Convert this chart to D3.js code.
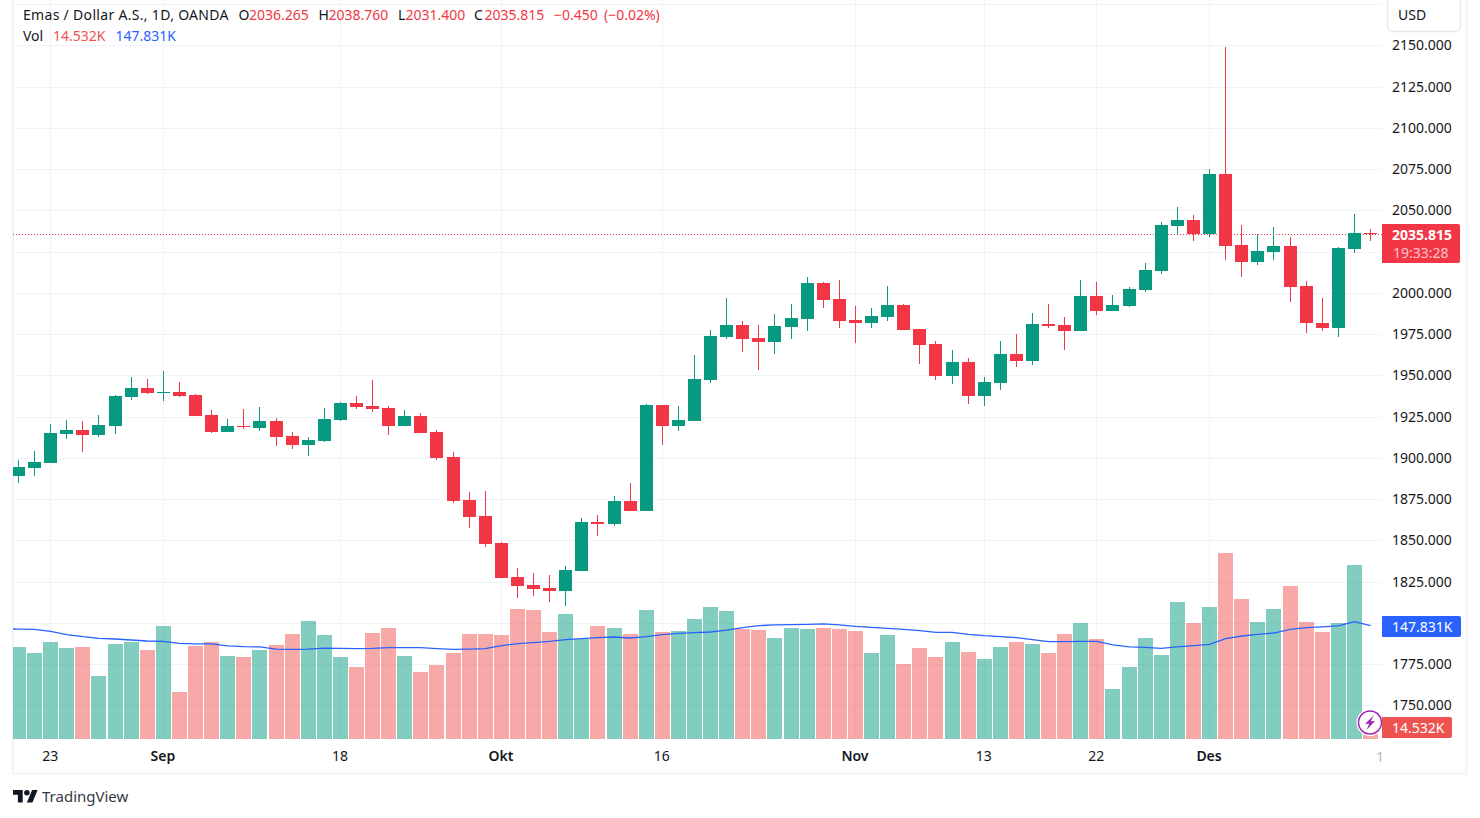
<!DOCTYPE html>
<html>
<head>
<meta charset="utf-8">
<title>Emas / Dollar A.S.</title>
<script src="https://cdn.jsdelivr.net/npm/d3@7"></script>
<style>
  html, body { margin: 0; padding: 0; background: #fff; }
  svg { display: block; }
  text { font-family: "Noto Sans", Roboto, sans-serif; font-size: 14px; fill: #131722; }
</style>
</head>
<body>
<div id="chart"></div>
<script>
// daily candles
var opens = [1889.2,1894.1,1897.1,1914.7,1917.1,1914.1,1919.5,1937.1,1942.6,1939.5,1940.1,1938.3,1926.2,1915.9,1919.5,1918.3,1922.6,1913.5,1908.0,1910.5,
  1923.2,1933.5,1931.7,1930.5,1919.5,1925.6,1915.9,1900.8,1874.7,1865.0,1848.6,1828.0,1823.2,1821.4,1819.6,1831.7,1861.4,1860.2,1874.1,1868.0,
  1932.3,1919.5,1922.6,1947.4,1973.5,1980.8,1972.9,1970.4,1979.5,1984.4,2006.2,1996.5,1983.8,1982.0,1985.6,1992.9,1978.3,1969.2,1949.8,1958.3,
  1937.7,1945.6,1963.2,1958.9,1981.4,1980.8,1977.1,1998.3,1989.2,1992.3,2002.0,2013.5,2040.7,2044.4,2035.9,2072.3,2029.2,2019.1,2025.0,2028.6,
  2004.4,1982.0,1978.9,2026.8,2036.265];
var highs = [1899.0,1904.4,1920.8,1923.2,1922.6,1926.2,1938.3,1949.2,1948.0,1952.9,1946.2,1938.9,1929.2,1923.8,1929.8,1931.1,1924.4,1915.9,1912.9,1930.5,
  1934.1,1937.7,1947.4,1931.7,1929.2,1927.4,1917.1,1903.8,1879.5,1880.1,1849.2,1833.5,1830.5,1829.2,1834.7,1863.8,1865.6,1877.1,1885.0,1932.9,
  1932.3,1931.7,1962.6,1977.7,1997.1,1983.2,1980.8,1987.4,1993.5,2009.8,2006.8,2008.0,1992.3,1991.1,2004.4,1993.5,1978.3,1971.0,1965.6,1960.8,
  1949.2,1971.0,1975.3,1988.0,1993.5,1985.6,2008.0,2006.8,1998.9,2003.8,2018.3,2043.2,2052.3,2047.4,2075.3,2149.3,2041.4,2035.9,2040.1,2034.1,
  2007.4,1997.1,2028.0,2048.0,2038.76];
var lows = [1885.0,1889.2,1897.1,1911.7,1903.8,1912.9,1914.7,1935.3,1938.9,1934.7,1937.1,1925.6,1915.3,1915.9,1917.7,1916.5,1907.4,1905.6,1901.4,1909.8,
  1922.6,1929.8,1928.0,1914.1,1919.5,1915.3,1899.0,1872.9,1857.7,1846.2,1827.4,1815.3,1816.5,1812.9,1810.5,1831.7,1852.9,1859.0,1868.0,1868.0,
  1908.0,1916.5,1922.6,1945.6,1972.3,1964.4,1953.5,1963.2,1972.3,1977.1,1991.1,1978.9,1969.8,1978.9,1983.2,1977.7,1957.1,1947.4,1945.0,1932.9,
  1931.7,1941.4,1955.3,1956.5,1978.9,1965.6,1977.1,1986.8,1989.2,1991.7,2000.8,2011.7,2035.3,2031.7,2034.1,2020.3,2009.8,2017.3,2020.3,1994.7,
  1975.9,1977.1,1973.5,2024.4,2031.4];
var closes = [1894.7,1897.7,1915.3,1917.1,1914.1,1920.2,1937.7,1942.6,1939.5,1940.1,1937.7,1925.6,1915.9,1919.5,1918.9,1922.6,1912.9,1908.0,1911.1,1923.8,
  1933.5,1931.1,1929.8,1919.5,1925.6,1915.3,1900.2,1874.1,1864.4,1848.0,1827.4,1822.6,1820.8,1819.6,1832.3,1861.4,1860.2,1874.1,1868.0,1932.3,
  1919.5,1923.2,1948.0,1974.1,1980.8,1972.3,1970.4,1980.1,1985.0,2006.2,1995.9,1983.2,1982.0,1986.2,1992.9,1977.7,1968.6,1949.8,1958.3,1937.7,
  1946.2,1963.2,1958.9,1981.4,1980.1,1977.1,1998.3,1989.2,1992.9,2002.6,2014.1,2041.4,2044.4,2035.9,2072.3,2028.6,2019.1,2025.6,2028.6,2003.8,
  1982.0,1978.9,2027.4,2036.5,2035.815];

// volume and its moving average, in thousands
var volumes = [120.1,112.2,126.6,118.7,120.1,82.2,124.0,126.6,116.1,147.5,61.3,121.4,126.6,108.3,107.0,116.1,122.7,137.0,154.0,135.7,
  107.0,94.0,138.3,144.8,108.3,87.4,96.6,112.2,137.0,137.0,135.7,169.6,168.3,139.6,163.1,130.5,147.5,144.8,137.0,168.3,
  139.6,140.9,156.6,172.2,167.0,143.5,142.2,131.8,144.8,143.5,144.8,143.5,140.9,112.2,135.7,97.9,118.7,107.0,126.6,113.5,
  104.4,120.1,126.6,124.0,112.2,137.0,151.4,130.5,65.2,94.0,131.8,109.6,178.8,151.4,172.2,242.7,182.7,152.7,169.6,199.7,
  152.7,139.6,151.4,227.1,14.532];
var volumeMA = [143.5,143.1,140.5,136.1,133.5,131.4,130.5,129.2,127.9,127.4,124.8,124.0,124.0,121.4,120.5,120.1,117.4,117.0,117.4,118.7,
  118.3,117.9,118.3,119.2,119.2,119.2,117.9,117.0,117.4,117.9,121.8,124.4,125.7,127.4,129.6,130.9,132.2,133.1,131.8,133.5,
  136.1,137.9,138.8,139.6,142.2,145.3,147.9,148.8,149.2,149.6,150.1,148.8,147.0,145.7,144.4,143.1,141.4,139.2,139.2,136.6,
  134.8,133.5,132.2,129.6,127.0,127.0,127.4,127.4,122.7,120.1,119.6,118.3,120.1,121.8,123.5,130.9,134.4,136.6,138.3,143.1,
  145.3,146.2,147.5,153.1,147.831];
var volumeMABefore = 143.6;   // bar scrolled off the left edge

// axis labels
var priceTicks = [1750,1775,1800,1825,1850,1875,1900,1925,1950,1975,2000,2025,2050,2075,2100,2125,2150];
var hiddenPriceTicks = [1800,2025];   // sit behind the price labels
var gridPrices = priceTicks.concat([2175]);
var timeTicks = [2,9,20,30,40,52,60,67,74];
var timeLabels = ["23","Sep","18","Okt","16","Nov","13","22","Des"];
var boldLabels = ["Sep","Okt","Nov","Des"];

var lastClose = 2035.815;

var width = 1480, height = 818;
var paneLeft = 13, paneRight = 1382, paneBottom = 739;
var green = "#089981", red = "#f23645";

var svg = d3.select("#chart").append("svg").attr("width", width).attr("height", height);

var x = d3.scaleLinear().domain([0, 84]).range([18.5, 1370.5]);
var y = d3.scaleLinear().domain([1750, 2150]).range([705.8, 45.8]);
var yVol = d3.scaleLinear().domain([0, 242.7]).range([paneBottom, 553]);

function px(i) { return Math.floor(x(i)); }
function isUp(i) { return closes[i] >= opens[i]; }

svg.append("clipPath").attr("id", "pane").append("rect")
  .attr("x", paneLeft).attr("y", 0).attr("width", paneRight - paneLeft).attr("height", paneBottom);
svg.append("clipPath").attr("id", "timeAxis").append("rect")
  .attr("x", paneLeft).attr("y", paneBottom).attr("width", paneRight - paneLeft).attr("height", 34);

// frame
svg.append("path")
  .attr("d", "M13,0V773.5H1466.5V0")
  .attr("fill", "none").attr("stroke", "#f0f3fa").attr("stroke-width", 2);

var pane = svg.append("g").attr("clip-path", "url(#pane)");

// grid
pane.selectAll("line.h").data(gridPrices).join("line").attr("class", "h")
  .attr("x1", paneLeft).attr("x2", paneRight)
  .attr("y1", function(d) { return Math.floor(y(d)) + 0.5; })
  .attr("y2", function(d) { return Math.floor(y(d)) + 0.5; })
  .attr("stroke", "#f0f3fa");
pane.selectAll("line.v").data(timeTicks).join("line").attr("class", "v")
  .attr("x1", function(d) { return px(d) + 0.5; })
  .attr("x2", function(d) { return px(d) + 0.5; })
  .attr("y1", 0).attr("y2", paneBottom)
  .attr("stroke", "#f0f3fa");

// volume bars
pane.selectAll("rect.vol").data(volumes).join("rect").attr("class", "vol")
  .attr("x", function(d, i) { return px(i) - 7; })
  .attr("width", 15)
  .attr("y", function(d) { return Math.round(yVol(d)); })
  .attr("height", function(d) { return paneBottom - Math.round(yVol(d)); })
  .attr("fill", function(d, i) { return isUp(i) ? "rgba(8,153,129,0.5)" : "rgba(239,83,80,0.5)"; });

// volume moving average
var maLine = d3.line()
  .x(function(d, i) { return x(i - 1); })
  .y(function(d) { return yVol(d); });
pane.append("path").datum([volumeMABefore].concat(volumeMA))
  .attr("d", maLine)
  .attr("fill", "none").attr("stroke", "#2962ff").attr("stroke-width", 1.3);

// last price line
pane.append("line")
  .attr("x1", paneLeft).attr("x2", paneRight)
  .attr("y1", Math.floor(y(lastClose)) + 0.5).attr("y2", Math.floor(y(lastClose)) + 0.5)
  .attr("stroke", red).attr("stroke-dasharray", "1,2");

// candles
var candles = pane.selectAll("g.candle").data(opens).join("g").attr("class", "candle");
candles.append("rect")
  .attr("x", function(d, i) { return px(i); })
  .attr("width", 1)
  .attr("y", function(d, i) { return Math.round(y(highs[i])); })
  .attr("height", function(d, i) { return Math.max(1, Math.round(y(lows[i])) - Math.round(y(highs[i]))); })
  .attr("fill", function(d, i) { return isUp(i) ? green : red; });
candles.append("rect")
  .attr("x", function(d, i) { return px(i) - 6; })
  .attr("width", 13)
  .attr("y", function(d, i) { return Math.round(y(Math.max(opens[i], closes[i]))); })
  .attr("height", function(d, i) {
    return Math.max(1, Math.round(y(Math.min(opens[i], closes[i]))) - Math.round(y(Math.max(opens[i], closes[i]))));
  })
  .attr("fill", function(d, i) { return isUp(i) ? green : red; });

// lightning badge
var badge = pane.append("g").attr("transform", "translate(1370,722.5)");
badge.append("circle").attr("r", 13.5).attr("fill", "#fff");
badge.append("circle").attr("r", 11.5).attr("fill", "#fff").attr("stroke", "#9c27b0").attr("stroke-width", 1.5);
badge.append("path").attr("d", "M4,-7.5L-5,1.5L-0.8,1.2L-3.5,7.5L5,-1.5L0.8,-1.2Z").attr("fill", "#9c27b0");

// price axis
var priceAxis = d3.axisRight(y)
  .tickValues(priceTicks.filter(function(d) { return hiddenPriceTicks.indexOf(d) < 0; }))
  .tickFormat(d3.format(".3f"))
  .tickSize(0).tickPadding(10);
var priceG = svg.append("g").attr("transform", "translate(" + paneRight + ",-0.5)").call(priceAxis);
priceG.select(".domain").remove();
priceG.selectAll("text").attr("fill", null);

// time axis
var timeAxis = d3.axisBottom(x)
  .tickValues(timeTicks)
  .tickFormat(function(d) { return timeLabels[timeTicks.indexOf(d)]; })
  .tickSize(0).tickPadding(12);
var timeG = svg.append("g").attr("transform", "translate(-1," + paneBottom + ")").call(timeAxis);
timeG.select(".domain").remove();
timeG.selectAll("text").attr("fill", null)
  .style("font-weight", function(d) { return boldLabels.indexOf(timeLabels[timeTicks.indexOf(d)]) >= 0 ? 600 : 400; });
svg.append("g").attr("clip-path", "url(#timeAxis)").append("text")
  .attr("x", 1376).attr("y", 762).style("fill", "#b2b5be").text("1");

// axis labels for the last values
function axisLabel(top, h, w, color) {
  svg.append("path")
    .attr("d", "M1382," + top + "H" + (1382 + w - 2) + "a2,2 0 0 1 2,2V" + (top + h - 2) + "a2,2 0 0 1 -2,2H1382Z")
    .attr("fill", color);
}
axisLabel(224, 39, 78, red);
svg.append("text").attr("x", 1392).attr("y", 240).style("fill", "#fff").style("font-weight", 700).text("2035.815");
svg.append("text").attr("x", 1393).attr("y", 258).style("fill", "#fff").style("opacity", 0.7).text("19:33:28");
axisLabel(616, 21, 79, "#2962ff");
svg.append("text").attr("x", 1392).attr("y", 632).style("fill", "#fff").text("147.831K");
axisLabel(717, 21, 70, "#ef5350");
svg.append("text").attr("x", 1392).attr("y", 733).style("fill", "#fff").text("14.532K");

// currency button
svg.append("rect").attr("x", 1387.5).attr("y", -6).attr("width", 73).attr("height", 37.5).attr("rx", 6)
  .attr("fill", "#fff").attr("stroke", "#e6e8f0").attr("stroke-width", 1.5);
svg.append("text").attr("x", 1398).attr("y", 20).style("fill", "#131722").text("USD");

// legend
var legendItems = [
  ["Emas / Dollar A.S., 1D, OANDA", 23, 20, "#131722", 0.31],
  ["O", 238.5, 20, "#131722", 0], ["2036.265", 249, 20, red, 0],
  ["H", 318.5, 20, "#131722", 0], ["2038.760", 328.5, 20, red, 0],
  ["L", 398, 20, "#131722", 0], ["2031.400", 405.5, 20, red, 0],
  ["C", 474, 20, "#131722", 0], ["2035.815", 484.5, 20, red, 0],
  ["\u22120.450", 554, 20, red, 0], ["(\u22120.02%)", 604, 20, red, 0],
  ["Vol", 23, 40.5, "#131722", 0], ["14.532K", 53, 40.5, "#ef5350", 0], ["147.831K", 115.5, 40.5, "#2962ff", 0]
];
svg.selectAll("text.legend").data(legendItems).join("text").attr("class", "legend")
  .attr("x", function(d) { return d[1]; })
  .attr("y", function(d) { return d[2]; })
  .style("fill", function(d) { return d[3]; })
  .style("letter-spacing", function(d) { return d[4] + "px"; })
  .text(function(d) { return d[0]; });

// TradingView logo
var logo = svg.append("g").attr("transform", "translate(13,787.2) scale(0.694)").attr("fill", "#131722");
logo.append("path").attr("d", "M14 22H7V11H0V4h14v18zM28 22h-8l7.5-18h8L28 22z");
logo.append("circle").attr("cx", 20).attr("cy", 8).attr("r", 4);
svg.append("text").attr("x", 42).attr("y", 802).style("fill", "#363a45").style("font-size", "15px").text("TradingView");
</script>
</body>
</html>
